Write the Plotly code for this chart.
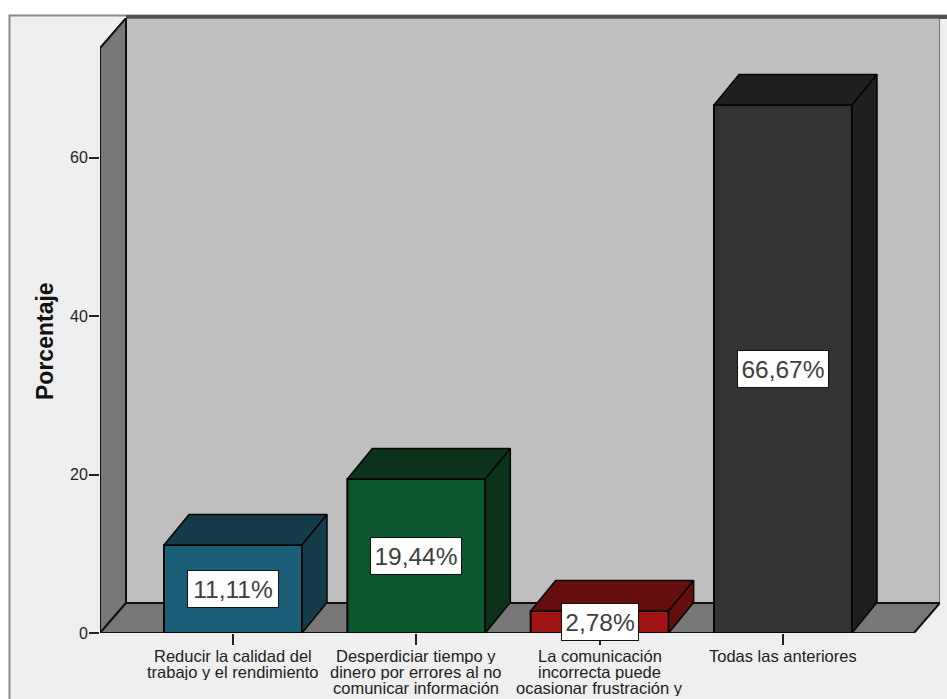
import plotly.graph_objects as go

categories = [
    ["Reducir la calidad del", "trabajo y el rendimiento"],
    ["Desperdiciar tiempo y", "dinero por errores al no", "comunicar información"],
    ["La comunicación", "incorrecta puede", "ocasionar frustración y"],
    ["Todas las anteriores"],
]
values = [11.11, 19.44, 2.78, 66.67]
value_labels = ["11,11%", "19,44%", "2,78%", "66,67%"]
front_colors = ["#1b5e78", "#0c572e", "#a31515", "#333333"]
depth_colors = ["#143b4a", "#0a3319", "#640e0e", "#1f1f1f"]
y_ticks = [0, 20, 40, 60]

W, H = 947, 699
L, R, T, B = 100, 940, 18, 633   # plot area in page pixels
X0_PX, X_STEP = 233.0, 183.33
Y_STEP = 7.92
x_min = (L - X0_PX) / X_STEP
x_max = (R - X0_PX) / X_STEP
y_max = (B - T) / Y_STEP
dx = 26 / X_STEP
dy = 30 / Y_STEP
bar_dx = 25 / X_STEP
bar_dy = 30.5 / Y_STEP
bar_w = 138 / X_STEP
xs = list(range(len(values)))
fx = lambda px: (px - L) / (R - L)
fy = lambda py: (B - py) / (B - T)

fig = go.Figure()

for i, v in enumerate(values):
    l, r = xs[i] - bar_w / 2, xs[i] + bar_w / 2
    fig.add_trace(go.Scatter(
        x=[l, r, r + bar_dx, l + bar_dx, l], y=[v, v, v + bar_dy, v + bar_dy, v],
        mode="lines", fill="toself", fillcolor=depth_colors[i],
        line=dict(color="#050505", width=1.5), hoverinfo="skip", cliponaxis=False))
    fig.add_trace(go.Scatter(
        x=[r, r + bar_dx, r + bar_dx, r, r], y=[0, bar_dy, v + bar_dy, v, 0],
        mode="lines", fill="toself", fillcolor=depth_colors[i],
        line=dict(color="#050505", width=1.5), hoverinfo="skip", cliponaxis=False))

fig.add_trace(go.Bar(
    x=xs, y=values, width=bar_w, marker=dict(color=front_colors, line=dict(color="#050505", width=2)),
    hoverinfo="skip", cliponaxis=False))

right_front = x_max - dx
wall = "#787878"
shapes = [
    # page frame
    dict(type="rect", xref="paper", yref="paper", x0=fx(9.5), x1=fx(960), y0=fy(15.5), y1=fy(720),
         fillcolor="#efefef", line=dict(color="#8a8a8a", width=2), layer="below"),
    # back wall
    dict(type="rect", xref="x", yref="y", x0=x_min + dx, x1=x_max, y0=dy, y1=y_max,
         fillcolor="#bfbfbf", line=dict(color="#222222", width=1), layer="below"),
    # left wall
    dict(type="path", xref="x", yref="y", layer="below", fillcolor=wall, line=dict(color="#111111", width=2),
         path=f"M {x_min} 0 L {x_min} {y_max - dy} L {x_min + dx} {y_max} L {x_min + dx} {dy} Z"),
    # floor
    dict(type="path", xref="x", yref="y", layer="below", fillcolor=wall, line=dict(color="#111111", width=2),
         path=f"M {x_min} 0 L {right_front} 0 L {x_max} {dy} L {x_min + dx} {dy} Z"),
    # heavy top edge
    dict(type="line", xref="paper", yref="paper", x0=fx(126), x1=fx(947), y0=fy(17), y1=fy(17),
         line=dict(color="#4f4f4f", width=4), layer="below"),
]

annotations = []
for i, v in enumerate(values):
    annotations.append(dict(
        x=xs[i], y=v / 2, xref="x", yref="y", text=value_labels[i], showarrow=False,
        font=dict(family="Liberation Sans", size=24.5, color="#404040"),
        bgcolor="white", bordercolor="#111111", borderwidth=1, borderpad=0,
        width=76 if len(value_labels[i]) < 6 else 90, height=36,
        xanchor="center", yanchor="middle"))
    for j, line in enumerate(categories[i]):
        annotations.append(dict(
            x=xs[i], y=0, xref="x", yref="paper", text=line, showarrow=False,
            font=dict(family="Liberation Sans", size=16.5, color="#222222"),
            height=16, borderpad=0, borderwidth=0,
            xanchor="center", yanchor="middle", yshift=-(23 + 16 * j)))
annotations.append(dict(
    x=fx(45), y=fy(341), xref="paper", yref="paper", text="<b>Porcentaje</b>", showarrow=False, textangle=-90,
    font=dict(family="Liberation Sans", size=23, color="#111111"), xanchor="center", yanchor="middle"))

fig.update_layout(
    width=W, height=H, autosize=False, showlegend=False, barmode="overlay",
    paper_bgcolor="white", plot_bgcolor="rgba(0,0,0,0)",
    margin=dict(l=L, r=W - R, t=T, b=H - B, pad=0),
    shapes=shapes, annotations=annotations,
    xaxis=dict(range=[x_min, x_max], tickmode="array", tickvals=xs, ticktext=[""] * 4, ticks="outside",
               ticklen=11, tickwidth=1.5, tickcolor="#222222", showgrid=False, zeroline=False, showline=False),
    yaxis=dict(range=[0, y_max], tickmode="array", tickvals=y_ticks, ticktext=[str(t) for t in y_ticks],
               ticks="outside", ticklen=10, tickwidth=1.5, tickcolor="#222222", showgrid=False,
               zeroline=False, showline=False, ticklabelstandoff=-2,
               tickfont=dict(family="Liberation Sans", size=16, color="#222222")),
)
fig.write_html("out.html", config={"displayModeBar": False},
               post_script="document.body.style.margin='0';document.documentElement.style.overflow='hidden';")
